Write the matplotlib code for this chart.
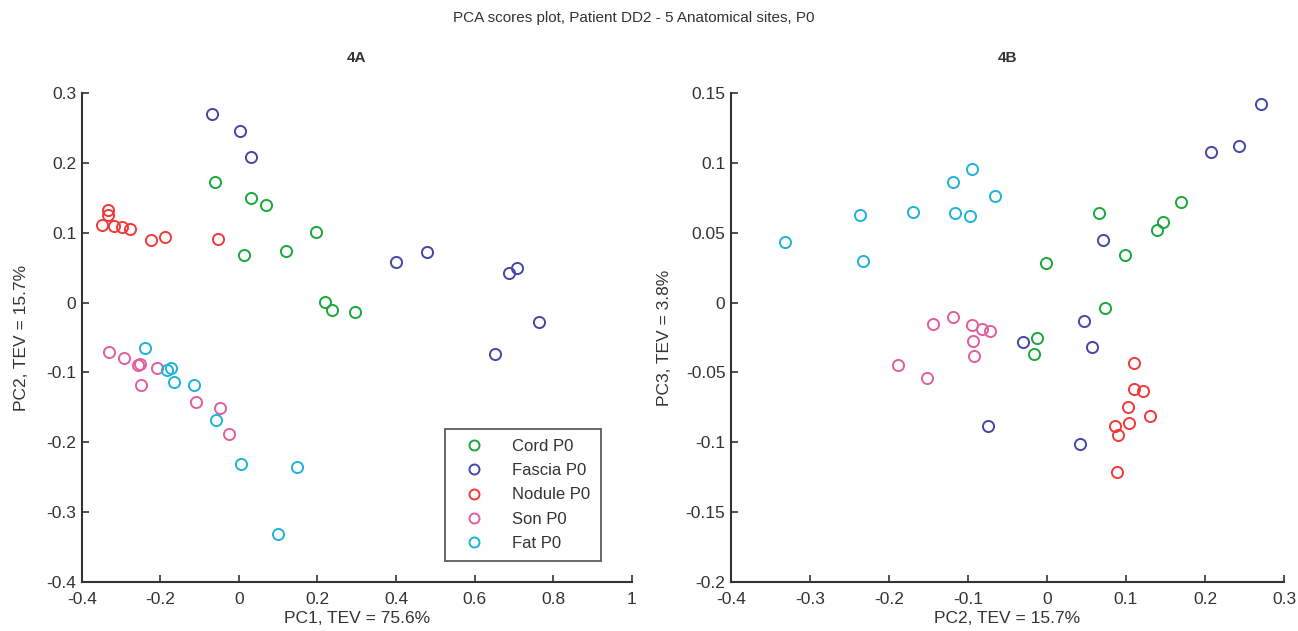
import matplotlib
matplotlib.use("Agg")
import matplotlib.pyplot as plt
import numpy as np

plt.rcParams['font.family'] = ['Liberation Sans', 'DejaVu Sans']

groups = ["Cord P0", "Fascia P0", "Nodule P0", "Son P0", "Fat P0"]
colors = ["#1aa83c", "#4646a8", "#f03a3a", "#e0609e", "#1eb4d8"]

# Plot 4A: PC1 vs PC2
pc1_cord = [-0.061, 0.030, 0.070, 0.196, 0.013, 0.121, 0.219, 0.238, 0.295]
pc2_cord = [0.173, 0.150, 0.140, 0.101, 0.068, 0.074, 0.001, -0.010, -0.014]
pc1_fascia = [-0.068, 0.003, 0.030, 0.401, 0.480, 0.687, 0.709, 0.763, 0.651]
pc2_fascia = [0.270, 0.246, 0.209, 0.058, 0.072, 0.043, 0.049, -0.028, -0.073]
pc1_nodule = [-0.334, -0.334, -0.348, -0.317, -0.298, -0.277, -0.224, -0.188, -0.053]
pc2_nodule = [0.133, 0.125, 0.111, 0.110, 0.108, 0.106, 0.089, 0.094, 0.091]
pc1_son = [-0.330, -0.292, -0.256, -0.252, -0.249, -0.209, -0.109, -0.048, -0.025]
pc2_son = [-0.071, -0.079, -0.089, -0.088, -0.118, -0.094, -0.143, -0.151, -0.188]
pc1_fat = [-0.239, -0.182, -0.173, -0.165, -0.115, -0.057, 0.005, 0.149, 0.100]
pc2_fat = [-0.065, -0.096, -0.094, -0.113, -0.118, -0.168, -0.231, -0.235, -0.331]

# Plot 4B: PC2 vs PC3
b_pc2_cord = [0.170, 0.147, 0.139, 0.066, 0.099, -0.001, 0.074, -0.013, -0.016]
b_pc3_cord = [0.072, 0.058, 0.052, 0.064, 0.034, 0.028, -0.004, -0.025, -0.037]
b_pc2_fascia = [0.271, 0.243, 0.207, 0.071, 0.047, -0.031, 0.057, -0.075, 0.042]
b_pc3_fascia = [0.142, 0.112, 0.108, 0.045, -0.013, -0.028, -0.032, -0.088, -0.101]
b_pc2_nodule = [0.110, 0.110, 0.121, 0.103, 0.130, 0.104, 0.086, 0.090, 0.089]
b_pc3_nodule = [-0.0435, -0.062, -0.063, -0.075, -0.081, -0.086, -0.088, -0.095, -0.1215]
b_pc2_son = [-0.144, -0.119, -0.095, -0.082, -0.072, -0.094, -0.092, -0.189, -0.152]
b_pc3_son = [-0.015, -0.010, -0.016, -0.019, -0.020, -0.0275, -0.038, -0.045, -0.054]
b_pc2_fat = [-0.332, -0.237, -0.233, -0.169, -0.119, -0.116, -0.095, -0.097, -0.066]
b_pc3_fat = [0.043, 0.063, 0.030, 0.065, 0.086, 0.064, 0.0955, 0.062, 0.076]

left_x = [pc1_cord, pc1_fascia, pc1_nodule, pc1_son, pc1_fat]
left_y = [pc2_cord, pc2_fascia, pc2_nodule, pc2_son, pc2_fat]
right_x = [b_pc2_cord, b_pc2_fascia, b_pc2_nodule, b_pc2_son, b_pc2_fat]
right_y = [b_pc3_cord, b_pc3_fascia, b_pc3_nodule, b_pc3_son, b_pc3_fat]

left_xticks = [-0.4, -0.2, 0, 0.2, 0.4, 0.6, 0.8, 1]
left_yticks = [-0.4, -0.3, -0.2, -0.1, 0, 0.1, 0.2, 0.3]
right_xticks = [-0.4, -0.3, -0.2, -0.1, 0, 0.1, 0.2, 0.3]
right_yticks = [-0.2, -0.15, -0.1, -0.05, 0, 0.05, 0.1, 0.15]

fig = plt.figure(figsize=(12.98, 6.31), dpi=100)
axL = fig.add_axes([81.7/1298, 49/631, 550/1298, 489/631])
axR = fig.add_axes([731/1298, 49/631, 553/1298, 489/631])

txtc = "#333333"

def style(ax, xt, yt):
    ax.set_xlim(xt[0], xt[-1])
    ax.set_ylim(yt[0], yt[-1])
    ax.set_xticks(xt)
    ax.set_yticks(yt)
    ax.set_xticklabels([f"{v:g}" for v in xt])
    ax.set_yticklabels([f"{v:g}" for v in yt])
    for s in ["top", "right"]:
        ax.spines[s].set_visible(False)
    for s in ["left", "bottom"]:
        ax.spines[s].set_linewidth(1.5)
        ax.spines[s].set_color("#333333")
    ax.tick_params(direction="in", length=5, width=1.2, colors="#333333",
                   labelsize=12.5, labelcolor=txtc)
    ax.tick_params(axis="x", pad=7)
    ax.tick_params(axis="y", pad=4)

for xs, ys, c, g in zip(left_x, left_y, colors, groups):
    axL.plot(xs, ys, linestyle="none", marker="o", markersize=8,
             markerfacecolor="none", markeredgecolor=c, markeredgewidth=1.4, label=g)
for xs, ys, c, g in zip(right_x, right_y, colors, groups):
    axR.plot(xs, ys, linestyle="none", marker="o", markersize=8,
             markerfacecolor="none", markeredgecolor=c, markeredgewidth=1.4, label=g)

style(axL, left_xticks, left_yticks)
style(axR, right_xticks, right_yticks)

axL.set_xlabel("PC1, TEV = 75.6%", fontsize=12.5, color=txtc, labelpad=3)
axL.set_ylabel("PC2, TEV = 15.7%", fontsize=12.5, color=txtc, labelpad=12)
axR.set_xlabel("PC2, TEV = 15.7%", fontsize=12.5, color=txtc, labelpad=3)
axR.set_ylabel("PC3, TEV = 3.8%", fontsize=12.5, color=txtc, labelpad=10)

axL.set_title("4A", fontsize=11, fontweight="bold", color=txtc, pad=22)
axR.set_title("4B", fontsize=11, fontweight="bold", color=txtc, pad=22)

fig.text(0.488, 0.972, "PCA scores plot, Patient DD2 - 5 Anatomical sites, P0",
         ha="center", va="center", fontsize=11, color=txtc)

leg = axL.legend(loc="lower left", bbox_to_anchor=(437/1298, (631-569)/631, 172/1298, 144/631),
                 bbox_transform=fig.transFigure, mode="expand", fontsize=12,
                 frameon=True, fancybox=False, edgecolor="#333333", borderpad=0.6,
                 labelspacing=0.55, handletextpad=1.2, handlelength=2.2, markerscale=0.9)
leg.get_frame().set_linewidth(1.3)
for t in leg.get_texts():
    t.set_color(txtc)

fig.savefig("out.png", dpi=100)
